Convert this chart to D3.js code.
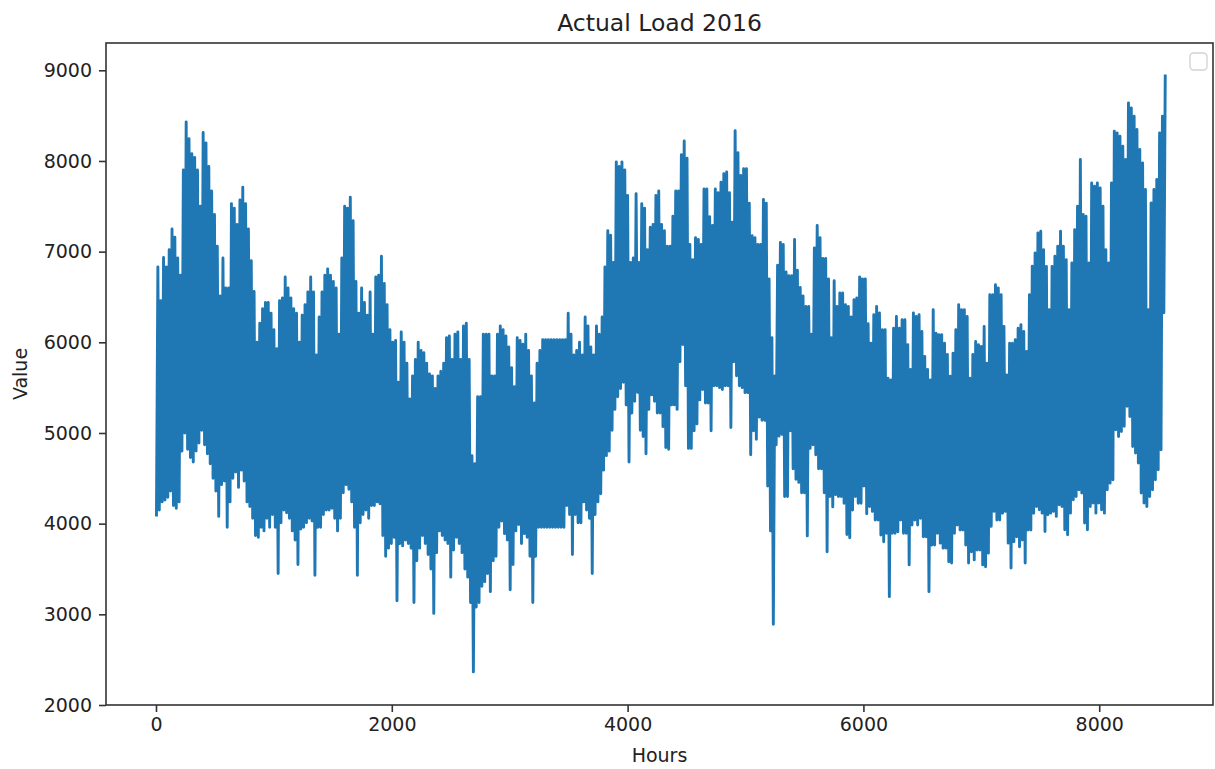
<!DOCTYPE html>
<html>
<head>
<meta charset="utf-8">
<script src="https://cdn.jsdelivr.net/npm/d3@7"></script>
<style>
  body { margin: 0; background: #fff; }
  svg { display: block; font-family: "DejaVu Sans", sans-serif; }
</style>
</head>
<body>
<svg id="chart" width="1215" height="769"></svg>
<script>
// daily low / high of the hourly load (day 0 .. 356)
const dailyMin = [
  4080, 4150, 4240, 4260, 4290, 4360, 4200, 4170, 4240, 4800,
  5000, 4820, 4730, 4680, 4800, 4890, 5030, 4870, 4770, 4660,
  4500, 4360, 4080, 4430, 4470, 3960, 4240, 4500, 4570, 4400,
  4590, 4470, 4240, 4190, 4060, 3870, 3850, 3960, 3920, 4060,
  3960, 4100, 3960, 3450, 4010, 4150, 4120, 4060, 3920, 3820,
  3550, 3940, 3960, 4010, 4060, 4030, 3430, 3960, 3960, 4100,
  4150, 4150, 4170, 4060, 3920, 4060, 4340, 4430, 4380, 4240,
  3960, 3430, 4010, 4100, 4150, 4060, 4200, 4200, 4240, 4220,
  3870, 3640, 3730, 3780, 3850, 3150, 3780, 3755, 3820, 3780,
  3730, 3130, 3590, 3730, 3870, 3780, 3660, 3500, 3010, 3680,
  3920, 3870, 3820, 3780, 3410, 3710, 3850, 3780, 3680, 3500,
  3410, 3130, 2365, 3080, 3130, 3310, 3360, 3450, 3250, 3590,
  3640, 3960, 4030, 3890, 3820, 3270, 3550, 3920, 3990, 3780,
  3890, 3850, 3640, 3130, 3640, 3960, 3960, 3960, 3960, 3960,
  3960, 3960, 3960, 3960, 3960, 4200, 4100, 3660, 4100, 4010,
  4010, 4240, 4150, 4060, 3450, 4100, 4240, 4330, 4590, 4750,
  4800, 5030, 5260, 5400, 5490, 5560, 5310, 4680, 5220, 5350,
  5450, 5030, 4960, 4770, 5260, 5420, 5350, 5220, 5220, 5070,
  4840, 4820, 5310, 5310, 5260, 5785, 5975, 5520, 4830, 4830,
  5025, 5100, 5365, 5480, 5330, 5330, 5025, 5520, 5520, 5500,
  5480, 5520, 5520, 5060, 5785, 5630, 5520, 5500, 5445, 5445,
  4760, 5025, 4930, 5175, 5140, 5140, 4415, 3920, 2890, 4870,
  4965, 4985, 4300, 4300, 5025, 4605, 4490, 4455, 4340, 4340,
  3865, 4830, 4870, 4760, 4605, 4605, 4340, 3690, 4300, 4185,
  4320, 4300, 4300, 4225, 3880, 3845, 4150, 4300, 4225, 4225,
  4415, 4110, 4190, 4135, 4040, 4040, 3875, 3800, 3895, 3195,
  3895, 3895, 3910, 4040, 3895, 3895, 3545, 3985, 4040, 3985,
  4060, 3855, 3855, 3250, 3765, 3765, 3895, 3785, 3730, 3730,
  3580, 3565, 3895, 3985, 3930, 3930, 3765, 3565, 3690, 3600,
  3710, 3710, 3545, 3525, 3675, 3970, 4135, 4040, 4040, 4115,
  4135, 3785, 3510, 3800, 3855, 3745, 3820, 3565, 3930, 3930,
  4115, 4190, 4153, 4116, 3914, 4098, 4116, 4135, 4080, 4208,
  4190, 3932, 3877, 4116, 4263, 4300, 4374, 4337, 4006, 3932,
  4190, 4227, 4116, 4227, 4153, 4116, 4374, 4447, 4484, 5035,
  4962, 5017, 5073, 5294, 5182, 4850, 4778, 4668, 4337, 4227,
  4190, 4300, 4374, 4484, 4594, 4815, 6325
];

const dailyMax = [
  6830, 6460, 6935, 6830, 7020, 7250, 7160, 6930, 6740, 7900,
  8430, 8245, 8080, 8040, 7900, 7500, 8315, 8200, 7940, 7670,
  7410, 7060, 6510, 6930, 6600, 6600, 7530, 7480, 7300, 7570,
  7710, 7530, 7250, 6900, 6560, 6000, 6210, 6370, 6440, 6440,
  6320, 6140, 5930, 6460, 6490, 6720, 6600, 6490, 6370, 6320,
  6000, 6300, 6415, 6555, 6720, 6555, 5860, 6280, 6555, 6740,
  6810, 6740, 6670, 6600, 6090, 6930, 7500, 7480, 7600, 7340,
  6670, 6320, 6600, 6440, 6300, 6555, 6090, 6720, 6740, 6950,
  6650, 6415, 6140, 6000, 6020, 5560, 6115, 6000, 5770, 5375,
  5630, 5810, 6000, 5910, 5885, 5770, 5650, 5630, 5490, 5630,
  5680, 5770, 6050, 6070, 5810, 6090, 6115, 5810, 6180, 6210,
  5810, 4750, 4660, 5400, 5400, 6090, 6090, 6090, 5630, 5630,
  6090, 6180, 6140, 6070, 5950, 5720, 5510, 6050, 6020, 5980,
  6090, 5910, 5630, 5330, 5770, 5910, 6030, 6030, 6030, 6030,
  6030, 6030, 6030, 6030, 6030, 6320, 6090, 5860, 5910, 6000,
  5860, 6280, 6180, 5950, 5860, 6180, 6090, 6280, 6830, 7230,
  7180, 6880, 7990, 7940, 7990, 7900, 7620, 6880, 6930, 7640,
  6880, 7530, 7480, 7020, 7270, 7300, 7620, 7670, 7300, 7230,
  7060, 7060, 7390, 7670, 7670, 8070, 8220, 8030, 7080, 6910,
  7155, 7135, 7080, 7690, 7690, 7385, 7290, 7690, 7650, 7765,
  7860, 7880, 7650, 7325, 8335, 8090, 7840, 7915, 7915, 7535,
  7175, 7155, 7080, 7080, 7575, 7535, 6700, 6050, 5630, 6850,
  7100, 7080, 6775, 6735, 6735, 7135, 6795, 6605, 6510, 6395,
  6395, 6090, 7040, 7290, 7155, 6925, 6925, 6700, 6050, 6680,
  6395, 6545, 6545, 6415, 6395, 6280, 6470, 6490, 6720, 6700,
  6700, 6205, 5990, 6305, 6395, 6325, 6140, 6140, 5605, 5585,
  6155, 6285, 6155, 6250, 6250, 5975, 5700, 6325, 6285, 6305,
  6120, 5845, 5700, 5585, 6360, 6100, 6085, 6085, 5990, 5865,
  5625, 5880, 6140, 6415, 6360, 6360, 6285, 5605, 5865, 6010,
  5975, 5955, 6175, 5770, 6525, 6525, 6635, 6600, 6525, 6175,
  5640, 5990, 5990, 6030, 6155, 6195, 6120, 5900, 6525, 6840,
  6985, 7205, 7225, 7022, 6838, 6360, 6838, 6949, 7060, 7225,
  7060, 6912, 6360, 6875, 7243, 7500, 8016, 7409, 7390, 6875,
  7758, 7721, 7758, 7703, 7500, 7022, 6875, 7758, 8328, 8310,
  8273, 8163, 8016, 8641, 8586, 8494, 8347, 8126, 7979, 7685,
  6360, 7537, 7685, 7795, 8310, 8494, 8954
];

const xTicks = [0, 2000, 4000, 6000, 8000];
const yTicks = [2000, 3000, 4000, 5000, 6000, 7000, 8000, 9000];
const chartTitle = 'Actual Load 2016';
const xLabel = 'Hours';
const yLabel = 'Value';

// hour of the night low and afternoon high inside each day
const lowHour = 4;
const highHour = 16;

const load = [];
dailyMin.forEach((lo, d) => {
  load.push({ hour: d * 24 + lowHour, value: lo });
  load.push({ hour: d * 24 + highHour, value: dailyMax[d] });
});

const plot = { left: 106, right: 1213, top: 43, bottom: 705 };

const svg = d3.select('#chart');

const x = d3.scaleLinear()
  .domain([-424, 8965])
  .range([plot.left, plot.right]);

const y = d3.scaleLinear()
  .domain([2000, 9301])
  .range([plot.bottom, plot.top]);

svg.append('clipPath')
  .attr('id', 'plot-clip')
  .append('rect')
  .attr('x', plot.left)
  .attr('y', plot.top)
  .attr('width', plot.right - plot.left)
  .attr('height', plot.bottom - plot.top);

const line = d3.line()
  .x(d => x(d.hour))
  .y(d => y(d.value));

// a thick stroke so the day-to-day swings close up into a solid band
svg.append('path')
  .datum(load)
  .attr('clip-path', 'url(#plot-clip)')
  .attr('fill', 'none')
  .attr('stroke', '#1f77b4')
  .attr('stroke-width', 2.9)
  .attr('stroke-linejoin', 'round')
  .attr('d', line);

// axes
const xAxis = svg.append('g')
  .attr('transform', `translate(0,${plot.bottom})`)
  .call(d3.axisBottom(x).tickValues(xTicks).tickFormat(d3.format('d'))
    .tickSize(7).tickSizeOuter(0).tickPadding(6));

const yAxis = svg.append('g')
  .attr('transform', `translate(${plot.left},0)`)
  .call(d3.axisLeft(y).tickValues(yTicks).tickFormat(d3.format('d'))
    .tickSize(7).tickSizeOuter(0).tickPadding(7));

[xAxis, yAxis].forEach(g => {
  g.select('.domain').remove();
  g.selectAll('.tick line').attr('stroke', '#333').attr('stroke-width', 1.6);
  g.selectAll('.tick text')
    .attr('fill', '#222')
    .style('font-family', '"DejaVu Sans", sans-serif')
    .style('font-size', '19px');
});

// frame
svg.append('rect')
  .attr('x', plot.left)
  .attr('y', plot.top)
  .attr('width', plot.right - plot.left)
  .attr('height', plot.bottom - plot.top)
  .attr('fill', 'none')
  .attr('stroke', '#333')
  .attr('stroke-width', 1.6);

// empty legend box
svg.append('rect')
  .attr('x', plot.right - 23)
  .attr('y', plot.top + 10)
  .attr('width', 17)
  .attr('height', 17)
  .attr('rx', 3.5)
  .attr('fill', '#fff')
  .attr('stroke', '#d4d4d4')
  .attr('stroke-width', 1.4);

svg.append('text')
  .attr('x', (plot.left + plot.right) / 2)
  .attr('y', 31)
  .attr('text-anchor', 'middle')
  .attr('fill', '#222')
  .style('font-size', '23.5px')
  .text(chartTitle);

svg.append('text')
  .attr('x', (plot.left + plot.right) / 2)
  .attr('y', 762)
  .attr('text-anchor', 'middle')
  .attr('fill', '#222')
  .style('font-size', '19px')
  .text(xLabel);

svg.append('text')
  .attr('transform', `translate(27,${(plot.top + plot.bottom) / 2}) rotate(-90)`)
  .attr('text-anchor', 'middle')
  .attr('fill', '#222')
  .style('font-size', '19px')
  .text(yLabel);
</script>
</body>
</html>
